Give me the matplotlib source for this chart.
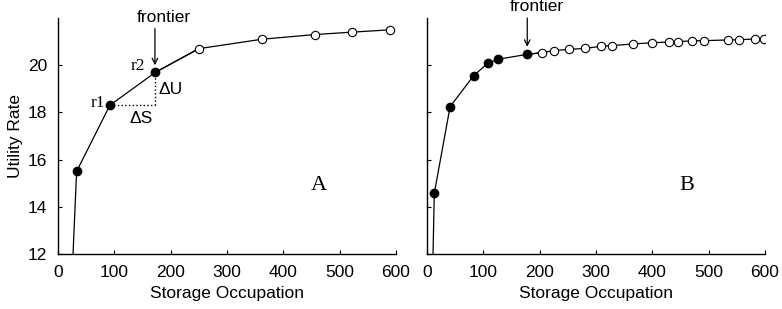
import numpy as np
import matplotlib
matplotlib.use("Agg")
import matplotlib.pyplot as plt

plt.rcParams['font.family'] = ['Liberation Sans', 'DejaVu Sans']

# panel A: storage occupation vs utility rate
a_fill_x = [23, 33, 92, 173]
a_fill_y = [10.0, 15.5, 18.3, 19.7]
a_open_x = [250, 362, 457, 522, 590]
a_open_y = [20.7, 21.1, 21.3, 21.4, 21.5]

# panel B
b_fill_x = [9, 13, 41, 83, 108, 126, 178]
b_fill_y = [10.0, 14.57, 18.24, 19.56, 20.08, 20.25, 20.46]
b_open_x = [204, 225, 252, 280, 309, 329, 366, 399, 429, 446, 470, 492, 535, 554, 583, 599]
b_open_y = [20.53, 20.62, 20.67, 20.71, 20.80, 20.83, 20.90, 20.95, 20.98, 21.00,
            21.03, 21.04, 21.07, 21.08, 21.11, 21.11]

xticks = [0, 100, 200, 300, 400, 500, 600]
yticks = [12, 14, 16, 18, 20]

FS = 12.5

fig = plt.figure(figsize=(7.82, 3.09), dpi=100)
axA = fig.add_axes([0.0742, 0.178, 0.4322, 0.7638])
axB = fig.add_axes([0.546, 0.178, 0.4322, 0.7638])


def draw(ax, fx, fy, ox, oy):
    ax.plot(fx + ox[:1], fy + oy[:1], color='black', lw=0.9, zorder=2)
    ax.plot([fx[-1]] + ox, [fy[-1]] + oy, color='black', lw=0.9, zorder=2)
    ax.plot(fx, fy, 'o', color='black', ms=6, zorder=3)
    ax.plot(ox, oy, 'o', mfc='white', mec='black', mew=0.8, ms=6, zorder=3)
    ax.set_xlim(0, 600)
    ax.set_ylim(12, 22)
    ax.set_xticks(xticks)
    ax.set_yticks(yticks)
    ax.spines['top'].set_visible(False)
    ax.spines['right'].set_visible(False)
    for s in ['left', 'bottom']:
        ax.spines[s].set_linewidth(1.0)
    ax.tick_params(direction='in', length=3, width=0.8, labelsize=FS)
    ax.tick_params(axis='x', pad=8)
    ax.tick_params(axis='y', pad=8)
    ax.set_xlabel("Storage Occupation", fontsize=FS, labelpad=4)


draw(axA, a_fill_x, a_fill_y, a_open_x, a_open_y)
draw(axB, b_fill_x, b_fill_y, b_open_x, b_open_y)
axB.set_yticklabels([])
axA.set_ylabel("Utility Rate", fontsize=FS, labelpad=3)

arrow = dict(arrowstyle='->', color='black', lw=0.9, shrinkA=0, shrinkB=0)

# annotations, panel A
axA.annotate("", xy=(172, 20.0), xytext=(172, 21.55), annotation_clip=False, arrowprops=arrow)
axA.text(187, 22.0, "frontier", fontsize=FS, ha='center', va='center', clip_on=False)
axA.plot([92, 173], [18.3, 18.3], ':', color='black', lw=1.0)
axA.plot([173, 173], [18.3, 19.7], ':', color='black', lw=1.0)
axA.text(84, 18.4, "r1", family='Liberation Serif', fontsize=FS, ha='right', va='center')
axA.text(155, 19.95, "r2", family='Liberation Serif', fontsize=FS, ha='right', va='center')
axA.text(179, 18.95, "\u0394U", fontsize=FS, ha='left', va='center')
axA.text(148, 17.76, "\u0394S", fontsize=FS, ha='center', va='center')
axA.text(463, 14.92, "A", family='Liberation Serif', fontsize=16, ha='center', va='center')

# annotations, panel B
axB.annotate("", xy=(178, 20.78), xytext=(178, 22.0), annotation_clip=False, arrowprops=arrow)
axB.text(195, 22.47, "frontier", fontsize=FS, ha='center', va='center', clip_on=False)
axB.text(461, 14.92, "B", family='Liberation Serif', fontsize=16, ha='center', va='center')

fig.savefig("out.png", dpi=100)
